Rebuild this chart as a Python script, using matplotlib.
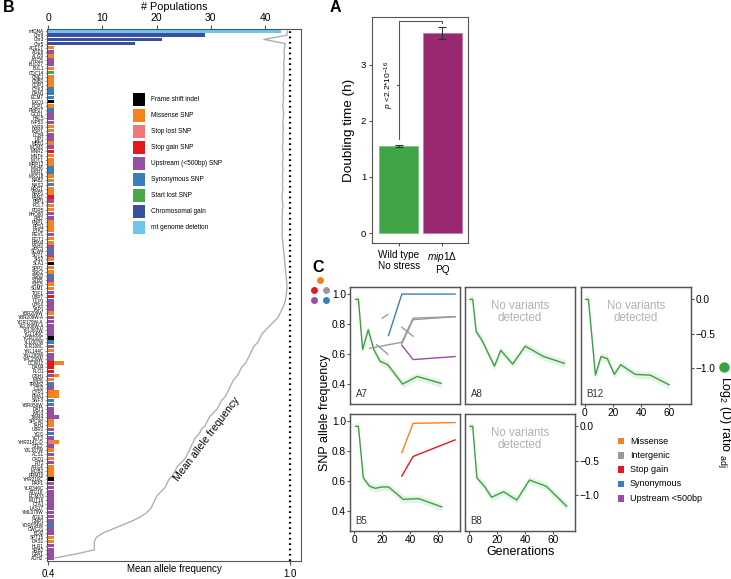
import matplotlib
matplotlib.use('Agg')
import matplotlib.pyplot as plt
from matplotlib.patches import Rectangle
from matplotlib.lines import Line2D

plt.rcParams['font.family'] = ['Liberation Sans', 'DejaVu Sans']
plt.rcParams['mathtext.fontset'] = 'custom'
plt.rcParams['mathtext.rm'] = 'Liberation Sans'
plt.rcParams['mathtext.it'] = 'Liberation Sans:italic'
plt.rcParams['mathtext.bf'] = 'Liberation Sans:bold'
plt.rcParams['axes.unicode_minus'] = True

# ---------------- DATA ----------------
# Panel B
genes = ['mtDNA', 'Chr9', 'Chr3', 'Chr5',
         'ADE17', 'ADE8', 'ALG9', 'ARG5', 'BUD27', 'BUL1', 'CDC14', 'CNE1', 'CNB1', 'COP1',
         'CYK3', 'DAN1', 'ECM7', 'EXO1', 'FCP1', 'FMP27', 'GCD1', 'HAL5', 'INP53', 'KAR9',
         'KSP1', 'LCB4', 'LIP1', 'MBB1', 'MCM3', 'MNR2', 'MNT4', 'MOT1', 'MRP12', 'MSH6',
         'MSR1', 'MSS18', 'NAB2', 'NAS2', 'NRG1', 'NRP1', 'PAN2', 'PBP1', 'PCL7', 'PDR5',
         'PHO80', 'PIB2', 'PNP1', 'PPS1', 'PTK2', 'REV1', 'RGT1', 'RPN4', 'SAP4', 'SCW4',
         'SDT1', 'SIS2', 'SLA1', 'SPP2', 'SSK2', 'SSN2', 'STB5', 'STE5', 'SUM1', 'TOF1',
         'UBP7', 'ULP1', 'VPS4', 'YAP1', 'YBR209W', 'YBR209W-A', 'YDR179W-A', 'YEL008W-A',
         'YFL063W', 'YGL140C', 'YGR210C', 'YLL007W', 'YLR108C', 'YNL144C', 'YNL295W', 'YPL150W',
         'CCW12', 'DAN4', 'FLO1', 'GSH1', 'MIP6', 'TRM82', 'CSI2', 'CYR1', 'PMA1', 'SNF3',
         'YBR056W', 'DAT1', 'IMD3', 'TIM44', 'SPC98', 'TAH1', 'UBR1', 'YDI1', 'YET3', 'YHR214C-D',
         'STE2', 'YJL107W', 'ACS1', 'CAD1', 'FIT2', 'ARG4', 'MOB2', 'PRM10', 'YHR210C', 'RAP1',
         'YLR346C', 'ATG18', 'ECM33', 'MUT16', 'CTA1', 'LAS17', 'YML079W', 'ADE3', 'GNP1', 'YDR034W',
         'CWC21', 'BOI2', 'SPT15', 'DAS1', 'HLR1', 'SRB2', 'GPA1', 'ADH2']
var_type = ['D', 'C', 'C', 'C',
            'M', 'U', 'M', 'U', 'U', 'M', 'T', 'M', 'M', 'M',
            'S', 'S', 'S', 'F', 'M', 'S', 'U', 'U', 'U', 'M',
            'M', 'U', 'U', 'M', 'U', 'G', 'M', 'M', 'M', 'S',
            'S', 'M', 'M', 'S', 'M', 'M', 'G', 'U', 'M', 'M',
            'U', 'U', 'M', 'M', 'M', 'U', 'M', 'M', 'U', 'S',
            'U', 'M', 'F', 'M', 'M', 'S', 'U', 'M', 'M', 'U',
            'G', 'U', 'U', 'U', 'M', 'U', 'U', 'U', 'U', 'U',
            'F', 'S', 'U', 'M', 'U', 'U', 'G', 'G', 'G', 'U',
            'M', 'S', 'U', 'M', 'M', 'S', 'S', 'U', 'U', 'U',
            'M', 'M', 'U', 'S', 'U', 'L', 'U', 'M', 'U', 'M',
            'U', 'M', 'M', 'M', 'F', 'U', 'U', 'U', 'U', 'U',
            'U', 'U', 'U', 'U', 'U', 'S', 'U', 'U', 'M', 'M',
            'U', 'U', 'U', 'U']
n_pops = [43, 29, 21, 16] + [1] * 124
extra_genes = ['CCW12', 'GSH1', 'CYR1', 'PMA1', 'TIM44', 'YHR214C-D']
extra_types = ['M', 'M', 'M', 'M', 'U', 'M']
extra_counts = [2, 1, 1, 1, 1, 1]
mean_af = [0.993, 0.992, 0.935, 0.988,
           0.986, 0.985, 0.986, 0.985, 0.984, 0.985, 0.984, 0.985, 0.984, 0.983,
           0.984, 0.983, 0.984, 0.983, 0.982, 0.983, 0.984, 0.983, 0.982, 0.983,
           0.983, 0.982, 0.983, 0.982, 0.981, 0.982, 0.983, 0.982, 0.981, 0.982,
           0.982, 0.981, 0.982, 0.981, 0.982, 0.981, 0.980, 0.981, 0.982, 0.981,
           0.981, 0.980, 0.981, 0.980, 0.981, 0.980, 0.981, 0.982, 0.983, 0.984,
           0.985, 0.986, 0.987, 0.988, 0.989, 0.990, 0.991, 0.992, 0.992, 0.991,
           0.990, 0.988, 0.985,
           0.98, 0.975, 0.97, 0.96, 0.95, 0.94, 0.93, 0.925, 0.92, 0.91,
           0.905, 0.90, 0.895, 0.89, 0.88, 0.875, 0.87, 0.86, 0.855, 0.85,
           0.845, 0.84, 0.83, 0.825, 0.82, 0.81, 0.80, 0.795, 0.79, 0.78,
           0.775, 0.765, 0.76, 0.755, 0.75, 0.745, 0.74, 0.73, 0.72, 0.715,
           0.71, 0.70, 0.695, 0.69, 0.68, 0.67, 0.665, 0.66, 0.655, 0.645,
           0.63, 0.61, 0.585, 0.56, 0.535, 0.52, 0.515, 0.515, 0.515, 0.47, 0.415]
legend_codes_B = ['F', 'M', 'L', 'G', 'U', 'S', 'T', 'C', 'D']
legend_labels_B = ['Frame shift indel', 'Missense SNP', 'Stop lost SNP', 'Stop gain SNP',
                   'Upstream (<500bp) SNP', 'Synonymous SNP', 'Start lost SNP',
                   'Chromosomal gain', 'mt genome deletion']

# Panel A
groups = ['Wild type\nNo stress', r'$\it{mip1}$Δ' + '\nPQ']
doubling = [1.55, 3.56]
doubling_err = [0.01, 0.11]
p_text = r'$\it{p}$ <2.2*10$^{-16}$'

# Panel C  (green: log2 (D) ratio adj; coloured: SNP allele frequency)
pops_C = ['A7', 'A8', 'B12', 'B5', 'B8']
gen_C = {
    'A7': [1, 3, 6, 10, 14, 18.5, 24, 34.5, 45, 62],
    'A8': [0.5, 2.5, 5, 9, 18, 22.5, 31, 40, 53, 68],
    'B12': [0.5, 2.5, 7.5, 11.5, 16, 21, 25.5, 36, 46.5, 60],
    'B5': [1, 3, 6.5, 11, 15, 20, 24.5, 35, 46, 62.5],
    'B8': [0.5, 2.5, 5.5, 10.5, 16, 24.5, 34, 43, 55, 69.5],
}
log2_C = {
    'A7': [0.0, 0.0, -0.73, -0.44, -0.73, -0.90, -0.95, -1.23, -1.12, -1.22],
    'A8': [0.0, 0.0, -0.47, -0.59, -0.97, -0.74, -0.94, -0.68, -0.83, -0.93],
    'B12': [0.0, 0.0, -1.10, -0.83, -0.86, -1.09, -0.95, -1.09, -1.10, -1.24],
    'B5': [0.0, 0.0, -0.75, -0.87, -0.90, -0.88, -0.88, -1.06, -1.05, -1.17],
    'B8': [0.0, 0.0, -0.75, -0.86, -1.03, -0.95, -1.07, -0.78, -0.87, -1.16],
}
snp_pop = ['A7', 'A7', 'A7', 'A7', 'A7', 'A7', 'A7', 'B5', 'B5']
snp_type = ['Synonymous', 'Intergenic', 'Intergenic', 'Intergenic', 'Intergenic',
            'Intergenic', 'Upstream <500bp', 'Missense', 'Stop gain']
snp_gen = [[24.5, 34, 72], [11, 34, 42, 72], [34, 42, 72], [20, 24], [16, 24],
           [34, 42], [34, 42, 72], [34, 42, 72], [34, 42, 72]]
snp_af = [[0.725, 1.0, 1.0], [0.64, 0.68, 0.84, 0.85], [0.67, 0.83, 0.85], [0.84, 0.865],
          [0.665, 0.60], [0.78, 0.72], [0.66, 0.565, 0.585], [0.79, 0.985, 0.99],
          [0.635, 0.765, 0.875]]
legend_labels_C = ['Missense', 'Intergenic', 'Stop gain', 'Synonymous', 'Upstream <500bp']

# ---------------- STYLE ----------------
col_B = {'F': '#000000', 'M': '#f6821f', 'L': '#f0787b', 'G': '#e3191c', 'U': '#984ea3',
         'S': '#3a7fba', 'T': '#46a848', 'C': '#3b4f9f', 'D': '#6ec6ef'}
col_C = {'Missense': '#f6821f', 'Intergenic': '#9a9a9a', 'Stop gain': '#e3191c',
         'Synonymous': '#3a7fba', 'Upstream <500bp': '#984ea3'}
green = '#3aa33f'
frame = '#555555'

W, H = 731, 579
fig = plt.figure(figsize=(W / 100, H / 100), dpi=100)


def fx(px):
    return px / W


def fy(py):
    return 1 - py / H


def box(l, t, r, b):
    return [fx(l), fy(b), (r - l) / W, (b - t) / H]


# ---------------- PANEL B ----------------
axB = fig.add_axes(box(47, 29, 301, 561))
N = len(genes)
rows = list(range(N))
axB.barh(rows, n_pops, height=0.88, color=[col_B[t] for t in var_type], linewidth=0)
for g, t, c in zip(extra_genes, extra_types, extra_counts):
    i = genes.index(g)
    axB.barh(i, c, left=n_pops[i], height=0.88, color=col_B[t], linewidth=0)
axB.set_ylim(N - 0.3, -0.5)
axB.set_xlim(-0.2, 46.6)
axB.set_yticks(rows)
axB.set_yticklabels(genes, fontsize=3.3)
axB.tick_params(axis='y', length=1.5, pad=0.8, width=0.4, color=frame)
for s in axB.spines.values():
    s.set_color(frame)
    s.set_linewidth(0.8)

axB2 = axB.twiny()
axB2.set_xlim(0.3975, 1.027)
axB2.plot(mean_af, rows, color='#b0b0b0', lw=1.0)
axB2.axvline(1.0, color='black', lw=1.6, ls=(0, (0.8, 1.6)))
for s in axB2.spines.values():
    s.set_visible(False)

# top axis: populations ; bottom axis: mean allele frequency
axB.xaxis.set_ticks_position('top')
axB.xaxis.set_label_position('top')
axB.set_xticks([0, 10, 20, 30, 40])
axB.tick_params(axis='x', labelsize=7.5, length=3, pad=1.5, color=frame,
                top=True, labeltop=True, bottom=False, labelbottom=False)
axB.set_xlabel('# Populations', fontsize=7.8, labelpad=2)
axB2.xaxis.set_ticks_position('bottom')
axB2.set_xticks([0.4, 1.0])
axB2.set_xticklabels(['0.4', '1.0'])
axB2.tick_params(axis='x', labelsize=7, length=3, pad=2.5, color=frame,
                 bottom=True, labelbottom=True, top=False, labeltop=False)

fig.text(fx(174), fy(569), 'Mean allele frequency', fontsize=7, ha='center', va='center')
fig.text(fx(207), fy(439), 'Mean allele frequency', fontsize=7.5, ha='center', va='center',
         rotation=53)

for i, (c, lab) in enumerate(zip(legend_codes_B, legend_labels_B)):
    yc = 99.3 + 16.05 * i
    fig.add_artist(Rectangle((fx(132.7), fy(yc + 6.2)), 12.5 / W, 12.4 / H,
                             transform=fig.transFigure, color=col_B[c], lw=0))
    fig.text(fx(151), fy(yc), lab, fontsize=4.7, ha='left', va='center')

fig.text(fx(9), fy(8), 'B', fontsize=11.5, fontweight='bold', ha='center', va='center')

# ---------------- PANEL A ----------------
axA = fig.add_axes(box(372.3, 17.3, 468.3, 243.3))
xA = [1, 2]
axA.bar(xA, doubling, width=0.9, color=['#41a447', '#9a2870'],
        edgecolor=['#7cc483', '#c47aa8'], linewidth=0.6)
axA.errorbar(xA, doubling, yerr=doubling_err, fmt='none', ecolor='#333333',
             elinewidth=0.8, capsize=3, capthick=0.8)
axA.plot([1, 1, 2, 2], [1.68, 3.78, 3.78, 3.73], color='#555555', lw=0.8)
axA.plot([0.96, 1.0], [2.64, 2.64], color='#555555', lw=0.8)
axA.text(0.78, 2.64, p_text, rotation=90, fontsize=6, ha='center', va='center')
axA.set_xlim(0.39, 2.6)
axA.set_ylim(-0.18, 3.84)
axA.set_yticks([0, 1, 2, 3])
axA.set_xticks(xA)
axA.set_xticklabels(groups, fontsize=7.2, linespacing=1.15)
axA.tick_params(axis='y', labelsize=6.8, length=2.5, pad=2, color=frame)
axA.tick_params(axis='x', length=2.5, pad=2, color=frame)
axA.set_ylabel('Doubling time (h)', fontsize=9.7, labelpad=4)
for s in axA.spines.values():
    s.set_color(frame)
    s.set_linewidth(0.8)
fig.text(fx(335), fy(8), 'A', fontsize=11.5, fontweight='bold', ha='center', va='center')

# ---------------- PANEL C ----------------
boxes = {'A7': (350, 287.3), 'A8': (465, 287.3), 'B12': (580.7, 287.3),
         'B5': (350, 414.3), 'B8': (465, 414.3)}
for p in pops_C:
    l, t = boxes[p]
    ax = fig.add_axes(box(l, t, l + 110, t + 116.7))
    ax.set_xlim(-3, 75.5)
    ax.set_ylim(0.27, 1.045)
    ax2 = ax.twinx()
    ax2.set_ylim(-1.52, 0.175)
    g = gen_C[p]
    v = log2_C[p]
    ax2.fill_between(g, [x - 0.055 for x in v], [x + 0.055 for x in v], color=green,
                     alpha=0.13, lw=0)
    ax2.plot(g, v, color=green, lw=1.0)
    for sp, st, sg, sa in zip(snp_pop, snp_type, snp_gen, snp_af):
        if sp == p:
            ax.plot(sg, sa, color=col_C[st], lw=1.0)
    ax.set_zorder(ax2.get_zorder() + 1)
    ax.patch.set_visible(False)
    for a in (ax, ax2):
        for s in a.spines.values():
            s.set_color(frame)
            s.set_linewidth(0.9)
    ax.set_xticks([0, 20, 40, 60])
    ax.set_yticks([0.4, 0.6, 0.8, 1.0])
    ax2.set_yticks([0.0, -0.5, -1.0])
    ax2.set_yticklabels(['0.0', '\u22120.5', '\u22121.0'])
    ax.tick_params(labelsize=7.3, length=2, pad=1, color=frame)
    ax2.tick_params(labelsize=7.3, length=2, pad=1.5, color=frame)
    if p in ('A7', 'A8'):
        ax.tick_params(axis='x', bottom=False, labelbottom=False)
    if p not in ('A7', 'B5'):
        ax.tick_params(axis='y', left=False, labelleft=False)
    if p not in ('B12', 'B8'):
        ax2.tick_params(axis='y', right=False, labelright=False)
    ax.text(0.05, 0.04, p, transform=ax.transAxes, fontsize=7, ha='left', va='bottom',
            color='#333333')
    if p in ('A8', 'B12', 'B8'):
        ax.text(0.5, 0.79, 'No variants\ndetected', transform=ax.transAxes, fontsize=8.3,
                ha='center', va='center', color='#b0b0b0', linespacing=1.05)

fig.text(fx(325), fy(413), 'SNP allele frequency', rotation=90, fontsize=9,
         ha='center', va='center')
for (dx, dy, dc) in [(320, 280, 'Missense'), (314, 290, 'Stop gain'), (326, 290, 'Intergenic'),
                     (314, 300, 'Upstream <500bp'), (326, 300, 'Synonymous')]:
    fig.add_artist(Line2D([fx(dx)], [fy(dy)], marker='o', markersize=4, color=col_C[dc],
                          transform=fig.transFigure, lw=0))
fig.text(fx(724), fy(422), r'Log$_2$ (D) ratio $_{\mathrm{adj}}$', rotation=270, fontsize=9,
         ha='center', va='center')
fig.add_artist(Line2D([fx(724)], [fy(367)], marker='o', markersize=6.5, color=green,
                      transform=fig.transFigure, lw=0))
fig.text(fx(521), fy(552), 'Generations', fontsize=9, ha='center', va='center')
fig.text(fx(318), fy(268), 'C', fontsize=11.5, fontweight='bold', ha='center', va='center')

for i, lab in enumerate(legend_labels_C):
    yc = 441 + 14.3 * i
    fig.add_artist(Rectangle((fx(617.5), fy(yc + 3.3)), 6.8 / W, 6.6 / H,
                             transform=fig.transFigure, color=col_C[lab], lw=0))
    fig.text(fx(630), fy(yc), lab, fontsize=6.5, ha='left', va='center')

fig.savefig('out.png', dpi=100)
